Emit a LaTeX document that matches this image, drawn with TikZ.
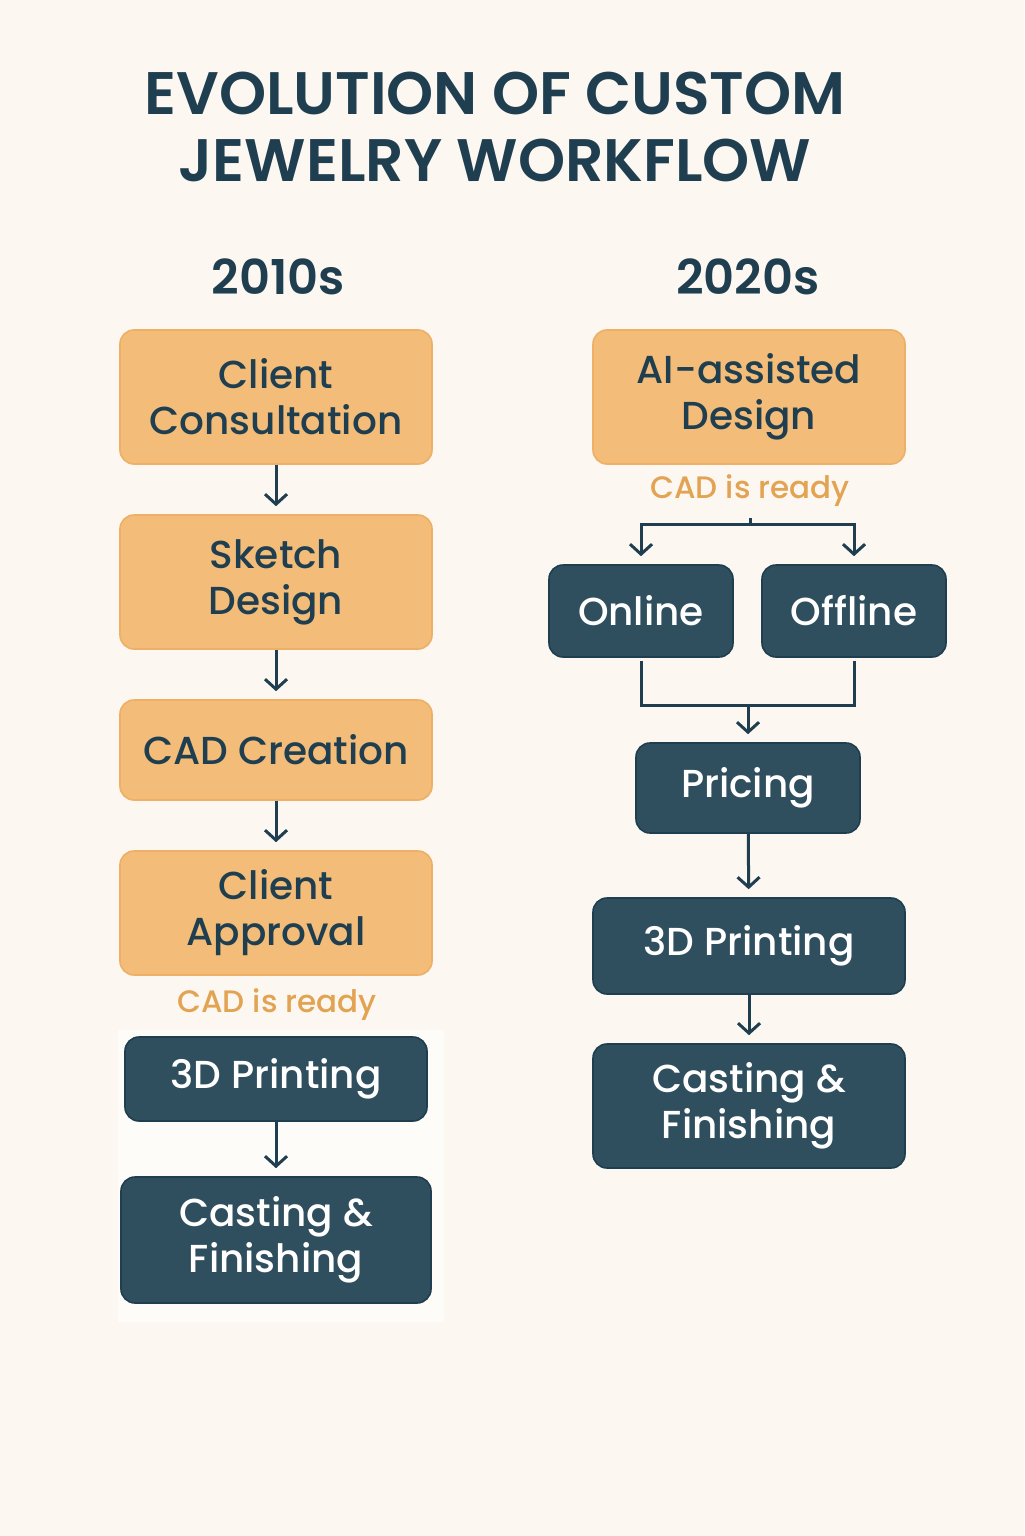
\documentclass[tikz,border=0pt]{standalone}
\usepackage{fontspec}
\setmainfont{Poppins}[UprightFont=*-Medium, BoldFont=*-SemiBold]
\usetikzlibrary{arrows.meta}

\definecolor{bgcol}{HTML}{FCF7F1}
\definecolor{navy}{HTML}{1F3F50}
\definecolor{slate}{HTML}{2F4F5E}
\definecolor{peach}{HTML}{F3BC78}
\definecolor{peachline}{HTML}{EEB066}
\definecolor{gold}{HTML}{E2A352}

\tikzset{
  oldbox/.style={rectangle, rounded corners=7pt, draw=peachline, line width=0.8pt, fill=peach,
    text=navy, align=center, minimum width=156pt, font=\fontsize{19.5}{23}\selectfont},
  newbox/.style={rectangle, rounded corners=7pt, draw=navy, line width=0.8pt, fill=slate,
    text=white, align=center, font=\fontsize{19.5}{23}\selectfont},
  note/.style={text=gold, font=\fontsize{15.5}{18}\selectfont},
  era/.style={text=navy, font=\bfseries\fontsize{24}{28}\selectfont},
  arr/.style={draw=navy, line width=1.5pt, -{Straight Barb[length=5pt, width=11pt]}, shorten >=4pt},
  link/.style={draw=navy, line width=1.5pt}
}

\begin{document}
\begin{tikzpicture}[x=0.5pt, y=-0.5pt]
				% page and backdrop
				\fill[bgcol] (0,0) rectangle (1024,1536);
				\useasboundingbox (0,0) rectangle (1024,1536);
				\fill[white!60!bgcol] (118,1030) rectangle (444,1322);
				% title and eras
				\node[text=navy, align=center, font=\bfseries\fontsize{30}{33.5}\selectfont] (title) at (495,127) {EVOLUTION OF CUSTOM\\JEWELRY WORKFLOW};
				\node[era] (old) at (278,277) {2010s};
				\node[era] (new) at (748,277) {2020s};
				% 2010s column
				\node[oldbox, minimum height=67pt] (consult) at (276,397) {Client\\Consultation};
				\node[oldbox, minimum height=67pt] (sketch) at (276,582) {Sketch\\Design};
				\node[oldbox, minimum height=50pt] (cad) at (276,750) {CAD Creation};
				\node[oldbox, minimum height=62pt] (approve) at (276,913) {Client\\Approval};
				\node[note] (readyL) at (277,1005) {CAD is ready};
				\node[newbox, minimum width=151pt, minimum height=42pt] (printL) at (276,1079) {3D Printing};
				\node[newbox, minimum width=155pt, minimum height=63pt] (castL) at (276,1240) {Casting \&\\Finishing};
				\draw[arr] (consult) -- (sketch);
				\draw[arr] (sketch) -- (cad);
				\draw[arr] (cad) -- (approve);
				\draw[arr] (printL) -- (castL);
				% 2020s column
				\node[oldbox, minimum height=67pt] (ai) at (749,397) {AI-assisted\\Design};
				\node[note] (readyR) at (750,491) {CAD is ready};
				\node[newbox, minimum width=92pt, minimum height=46pt] (online) at (641,611) {Online};
				\node[newbox, minimum width=92pt, minimum height=46pt] (offline) at (854,611) {Offline};
				\node[newbox, minimum width=112pt, minimum height=45pt] (pricing) at (748,788) {Pricing};
				\node[newbox, minimum width=156pt, minimum height=48pt] (printR) at (749,946) {3D Printing};
				\node[newbox, minimum width=156pt, minimum height=62pt] (castR) at (749,1106) {Casting \&\\Finishing};
				\coordinate (splitR) at (750,524);
				\coordinate (mergeR) at (748,705);
				\draw[link, shorten <=2pt] (readyR.south) -- (splitR);
				\draw[arr] (splitR) -| (online.north);
				\draw[arr] (splitR) -| (offline.north);
				\draw[link, shorten <=1.5pt] (online.south) |- (mergeR);
				\draw[link, shorten <=1.5pt] (offline.south) |- (mergeR);
				\draw[arr] (mergeR) -- (pricing.north);
				\draw[arr] (pricing) -- (printR);
				\draw[arr] (printR) -- (castR);
			\end{tikzpicture}
\end{document}
